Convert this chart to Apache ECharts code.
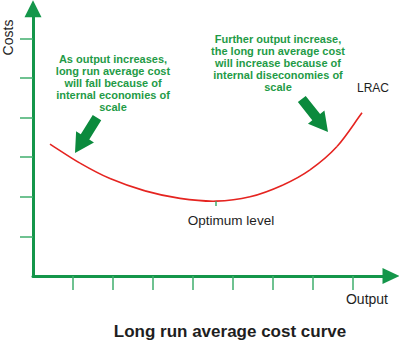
<!DOCTYPE html>
<html>
<head>
<meta charset="utf-8">
<script src="https://cdn.jsdelivr.net/npm/echarts@6/dist/echarts.min.js"></script>
<style>
  html, body { margin: 0; padding: 0; background: #ffffff; }
  #chart { width: 399px; height: 341px; }
</style>
</head>
<body>
<div id="chart"></div>
<script>
// Long run average cost (LRAC) sampled along output
const outputLevels = [0.425, 1.175, 1.925, 2.8, 3.675, 4.575, 5.425, 6.25, 6.925, 7.6, 8.225];
const lracValues   = [3.33, 2.85, 2.46, 2.15, 1.96, 1.89, 2.0, 2.3, 2.68, 3.27, 4.12];

// Unlabelled tick marks on both axes
const xTickValues = [1, 2, 3, 4, 5, 6, 7, 8];
const yTickValues = [1, 2, 3, 4, 5, 6];

// Output level at the bottom of the curve
const optimumOutput = 4.575;

const chartTitle = 'Long run average cost curve';
const xAxisTitle = 'Output';
const yAxisTitle = 'Costs';
const curveName = 'LRAC';
const optimumLabel = 'Optimum level';
const fallingNote = 'As output increases,\nlong run average cost\nwill fall because of\ninternal economies of\nscale';
const risingNote = 'Further output increase,\nthe long run average cost\nwill increase because of\ninternal diseconomies of\nscale';

const AXIS_GREEN = '#14964a';
const TICK_GREEN = '#3fae6c';
const NOTE_GREEN = '#1f9b47';
const ARROW_GREEN = '#0b8a3d';
const CURVE_RED = '#e52420';
const FONT = 'Arial, "Liberation Sans", Helvetica, sans-serif';

const chart = echarts.init(document.getElementById('chart'), null, { renderer: 'svg' });

const curveData = outputLevels.map((x, i) => [x, lracValues[i]]);
const minCost = Math.min(...lracValues);

// Draws the whole curve once as a chain of Catmull-Rom cubic segments
// through the sampled points, positioned by the grid's own scales.
function renderCurve(params, api) {
  if (params.dataIndex !== 0) return null;
  const pts = curveData.map(d => api.coord(d));
  const n = pts.length;
  const tangent = i => {
    const a = pts[Math.max(i - 1, 0)], b = pts[Math.min(i + 1, n - 1)];
    const k = (i === 0 || i === n - 1) ? 1 : 0.5;
    return [(b[0] - a[0]) * k, (b[1] - a[1]) * k];
  };
  const children = [];
  for (let i = 0; i < n - 1; i++) {
    const p0 = pts[i], p1 = pts[i + 1];
    const t0 = tangent(i), t1 = tangent(i + 1);
    children.push({
      type: 'bezierCurve',
      shape: {
        x1: p0[0], y1: p0[1], x2: p1[0], y2: p1[1],
        cpx1: p0[0] + t0[0] / 3, cpy1: p0[1] + t0[1] / 3,
        cpx2: p1[0] - t1[0] / 3, cpy2: p1[1] - t1[1] / 3
      },
      style: { stroke: CURVE_RED, lineWidth: 1.6, fill: null }
    });
  }
  return { type: 'group', children: children };
}

chart.setOption({
  animation: false,
  backgroundColor: '#ffffff',
  grid: { left: 33, right: 8, top: 8.7, bottom: 65, containLabel: false },
  xAxis: {
    type: 'value', min: 0, max: 8.95,
    axisLine: {
      show: true, onZero: false,
      symbol: ['none', 'triangle'], symbolSize: [16, 17],
      lineStyle: { color: AXIS_GREEN, width: 3 }
    },
    axisTick: { show: true, customValues: xTickValues, length: 14, lineStyle: { color: TICK_GREEN, width: 1.5 } },
    axisLabel: { show: false },
    splitLine: { show: false }
  },
  yAxis: {
    type: 'value', min: 0, max: 6.75,
    axisLine: {
      show: true, onZero: false,
      symbol: ['none', 'triangle'], symbolSize: [17, 17],
      lineStyle: { color: AXIS_GREEN, width: 3 }
    },
    axisTick: { show: true, customValues: yTickValues, length: 13, lineStyle: { color: TICK_GREEN, width: 1.5 } },
    axisLabel: { show: false },
    splitLine: { show: false }
  },
  series: [{
    name: curveName,
    type: 'custom',
    data: curveData,
    renderItem: renderCurve,
    clip: false,
    markLine: {
      silent: true,
      symbol: ['none', 'none'],
      label: { show: false },
      lineStyle: { color: TICK_GREEN, width: 1.5, type: 'solid' },
      data: [[{ coord: [optimumOutput, minCost] }, { coord: [optimumOutput, minCost - 0.12] }]]
    }
  }]
});

// Block arrows pointing at the two ends of the curve (anchors in data space)
const arrowAnchors = [
  { tail: [1.6, 4.0], tip: [1.05, 3.106] },
  { tail: [6.72, 4.47], tip: [7.375, 3.636] }
];

function arrowPoints(tail, tip) {
  const dx = tip[0] - tail[0], dy = tip[1] - tail[1];
  const len = Math.hypot(dx, dy);
  const ux = dx / len, uy = dy / len;
  const nx = -uy, ny = ux;
  const shaft = 5, head = 10.5, headLen = 19;
  const hx = tip[0] - ux * headLen, hy = tip[1] - uy * headLen;
  return [
    [tail[0] + nx * shaft, tail[1] + ny * shaft],
    [hx + nx * shaft, hy + ny * shaft],
    [hx + nx * head, hy + ny * head],
    [tip[0], tip[1]],
    [hx - nx * head, hy - ny * head],
    [hx - nx * shaft, hy - ny * shaft],
    [tail[0] - nx * shaft, tail[1] - ny * shaft]
  ];
}

const arrows = arrowAnchors.map(a => {
  const t = chart.convertToPixel({ gridIndex: 0 }, a.tail);
  const p = chart.convertToPixel({ gridIndex: 0 }, a.tip);
  return {
    type: 'polygon',
    shape: { points: arrowPoints(t, p) },
    style: { fill: ARROW_GREEN }
  };
});

function label(text, x, y, font, color, extra) {
  return Object.assign({
    type: 'text', x: x, y: y,
    style: { text: text, font: font, fill: color, textAlign: 'center', textVerticalAlign: 'middle' }
  }, extra || {});
}

chart.setOption({
  graphic: arrows.concat([
    label(yAxisTitle, 8, 37.5, '14px ' + FONT, '#1e1e1e', { rotation: Math.PI / 2 }),
    label(xAxisTitle, 367, 299, '14px ' + FONT, '#1e1e1e'),
    label(curveName, 373, 88, '12px ' + FONT, '#1e1e1e'),
    label(optimumLabel, 231, 220, '13.5px ' + FONT, '#1e1e1e'),
    label(chartTitle, 230, 331, 'bold 17px ' + FONT, '#1e1e1e'),
    {
      type: 'text', x: 113, y: 53,
      style: { text: fallingNote, font: 'bold 11px ' + FONT, lineHeight: 12, fill: NOTE_GREEN, textAlign: 'center', textVerticalAlign: 'top' }
    },
    {
      type: 'text', x: 278, y: 33,
      style: { text: risingNote, font: 'bold 11px ' + FONT, lineHeight: 12, fill: NOTE_GREEN, textAlign: 'center', textVerticalAlign: 'top' }
    }
  ])
});
</script>
</body>
</html>
